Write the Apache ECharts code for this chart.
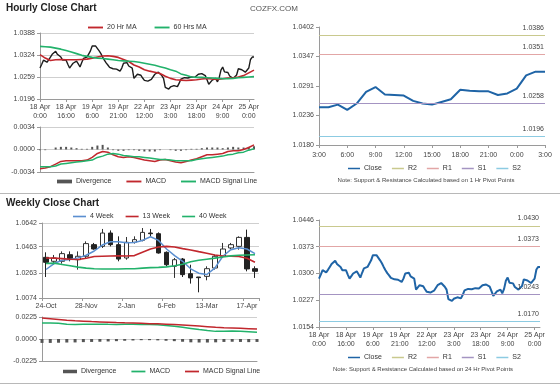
<!DOCTYPE html>
<html><head><meta charset="utf-8">
<script src="https://cdn.jsdelivr.net/npm/echarts@6/dist/echarts.min.js"></script>
<style>html,body{margin:0;padding:0;background:#fff}#c{width:560px;height:386px}</style>
</head><body><div id="c"></div><script>
// ---------------- DATA ----------------
const hourlyTickLabels = ['18 Apr\n0:00','18 Apr\n16:00','19 Apr\n6:00','19 Apr\n21:00','22 Apr\n12:00','23 Apr\n3:00','23 Apr\n18:00','24 Apr\n9:00','25 Apr\n0:00'];
const hourlyClose = [
1.0286,1.0297,1.0309,1.0305,1.0303,1.0310,1.0318,1.0326,1.0330,1.0335,
1.0326,1.0327,1.0318,1.0309,1.0311,1.0309,1.0297,1.0286,1.0293,1.0300,
1.0304,1.0306,1.0298,1.0289,1.0302,1.0314,1.0316,1.0318,1.0320,1.0336,
1.0350,1.0355,1.0350,1.0345,1.0336,1.0328,1.0318,1.0309,1.0301,1.0295,
1.0288,1.0289,1.0284,1.0286,1.0283,1.0280,1.0277,1.0286,1.0300,1.0302,
1.0302,1.0292,1.0288,1.0286,1.0256,1.0262,1.0268,1.0273,1.0265,1.0257,
1.0250,1.0245,1.0248,1.0250,1.0253,1.0256,1.0268,1.0272,1.0274,1.0270,
1.0264,1.0256,1.0230,1.0226,1.0225,1.0231,1.0236,1.0235,1.0236,1.0232,
1.0242,1.0254,1.0256,1.0258,1.0259,1.0257,1.0259,1.0260,1.0261,1.0259,
1.0257,1.0268,1.0264,1.0270,1.0266,1.0264,1.0252,1.0239,1.0242,
1.0251,1.0251,1.0256,1.0246,1.0258,1.0280,1.0289,1.0275,1.0274,1.0273,
1.0263,1.0258,1.0256,1.0261,1.0266,1.0284,1.0282,1.0281,1.0281,1.0274,
1.0277,1.0286,1.0311,1.0318,1.0318];
// 3-hourly samples
const ma20 = [1.0325,1.0315,1.0308,1.0310,1.0311,1.0310,1.0310,1.0310,1.0311,1.0312,1.0315,1.0318,1.0321,1.0322,1.0320,1.0317,1.0311,1.0305,1.0295,1.0289,1.0281,1.0277,1.0274,1.0270,1.0262,1.0256,1.0252,1.0251,1.0250,1.0251,1.0252,1.0254,1.0256,1.0254,1.0253,1.0255,1.0257,1.0258,1.0260,1.0264,1.0272,1.0280];
const ma60 = [1.0349,1.0348,1.0347,1.0344,1.0341,1.0337,1.0333,1.0328,1.0323,1.0320,1.0317,1.0315,1.0314,1.0312,1.0310,1.0308,1.0307,1.0306,1.0305,1.0303,1.0300,1.0297,1.0294,1.0290,1.0286,1.0281,1.0277,1.0269,1.0265,1.0260,1.0259,1.0259,1.0258,1.0257,1.0256,1.0255,1.0255,1.0256,1.0258,1.0259,1.0260,1.0261];
const hMacd = [-0.0029,-0.0028,-0.0026,-0.0022,-0.0018,-0.0017,-0.0017,-0.0017,-0.0017,-0.0016,-0.0012,-0.0006,-0.0003,-0.0004,-0.0008,-0.0011,-0.0012,-0.0011,-0.0012,-0.0014,-0.0016,-0.0017,-0.0018,-0.0016,-0.0015,-0.0017,-0.0019,-0.0020,-0.0018,-0.0016,-0.0014,-0.0011,-0.0008,-0.0008,-0.0007,-0.0006,-0.0003,-0.0002,-0.0002,0.0000,0.0003,0.0007];
const hSignal = [-0.0026,-0.0026,-0.0026,-0.0025,-0.0022,-0.0021,-0.0020,-0.0019,-0.0018,-0.0017,-0.0016,-0.0012,-0.0010,-0.0007,-0.0006,-0.0007,-0.0009,-0.0010,-0.0011,-0.0011,-0.0012,-0.0013,-0.0014,-0.0015,-0.0015,-0.0016,-0.0017,-0.0017,-0.0017,-0.0017,-0.0015,-0.0014,-0.0013,-0.0012,-0.0011,-0.0010,-0.0008,-0.0007,-0.0005,-0.0004,-0.0001,0.0001];
const hDiv = [-0.0001,-0.0001,0.0000,0.0003,0.0004,0.0004,0.0003,0.0002,0.0001,0.0001,0.0004,0.0006,0.0007,0.0003,-0.0001,-0.0002,-0.0002,-0.0001,-0.0001,-0.0002,-0.0003,-0.0003,-0.0003,-0.0001,0.0000,-0.0001,-0.0002,-0.0002,-0.0001,0.0001,0.0001,0.0002,0.0003,0.0003,0.0003,0.0002,0.0003,0.0004,0.0003,0.0003,0.0004,0.0005];
const pivot1hTickLabels = ['3:00','6:00','9:00','12:00','15:00','18:00','21:00','0:00','3:00'];
const pivotNames = ['R2','R1','S1','S2'];
const pivot1hValues = [1.0386,1.0351,1.0258,1.0196];
const pivot24hValues = [1.0430,1.0373,1.0243,1.0170];
const weeklyTickLabels = ['24-Oct','28-Nov','2-Jan','6-Feb','13-Mar','17-Apr'];
// [open, close, low, high]
const weeklyOHLC = [
[1.0382,1.0344,1.0233,1.0420],[1.0352,1.0377,1.0326,1.0400],[1.0352,1.0410,1.0334,1.0427],[1.0402,1.0372,1.0352,1.0427],
[1.0364,1.0390,1.0289,1.0427],[1.0390,1.0486,1.0377,1.0503],[1.0478,1.0445,1.0440,1.0491],[1.0465,1.0566,1.0453,1.0597],
[1.0566,1.0478,1.0465,1.0586],[1.0478,1.0369,1.0352,1.0541],[1.0377,1.0496,1.0364,1.0536],[1.0496,1.0516,1.0486,1.0541],
[1.0511,1.0571,1.0503,1.0604],[1.0566,1.0561,1.0541,1.0597],[1.0561,1.0415,1.0410,1.0571],[1.0420,1.0326,1.0314,1.0427],
[1.0314,1.0364,1.0226,1.0377],[1.0369,1.0251,1.0233,1.0377],[1.0258,1.0226,1.0183,1.0326],[1.0233,1.0228,1.0117,1.0233],
[1.0238,1.0296,1.0208,1.0314],[1.0301,1.0390,1.0289,1.0402],[1.0390,1.0445,1.0377,1.0491],[1.0453,1.0478,1.0445,1.0491],
[1.0465,1.0533,1.0440,1.0541],[1.0533,1.0294,1.0276,1.0592],[1.0296,1.0276,1.0226,1.0314]];
const wk4 = [1.0290,1.0335,1.0360,1.0365,1.0378,1.0398,1.0430,1.0475,1.0500,1.0500,1.0492,1.0495,1.0510,1.0538,1.0510,1.0445,1.0395,1.0352,1.0295,1.0262,1.0252,1.0300,1.0390,1.0440,1.0455,1.0445,1.0410];
const wk13 = [1.0377,1.0376,1.0372,1.0368,1.0365,1.0375,1.0388,1.0390,1.0392,1.0393,1.0392,1.0395,1.0420,1.0445,1.0460,1.0465,1.0460,1.0448,1.0438,1.0425,1.0413,1.0400,1.0392,1.0390,1.0388,1.0375,1.0345];
const wk40 = [1.0335,1.0338,1.0328,1.0318,1.0308,1.0300,1.0296,1.0294,1.0294,1.0294,1.0295,1.0296,1.0300,1.0304,1.0306,1.0310,1.0318,1.0330,1.0348,1.0360,1.0368,1.0376,1.0385,1.0393,1.0398,1.0400,1.0402];
const wMacd = [0.0164,0.0163,0.0160,0.0150,0.0148,0.0150,0.0152,0.0152,0.0150,0.0149,0.0150,0.0150,0.0149,0.0148,0.0145,0.0138,0.0130,0.0120,0.0108,0.0096,0.0086,0.0078,0.0080,0.0082,0.0080,0.0075,0.0070];
const wSignal = [0.0215,0.0208,0.0200,0.0192,0.0186,0.0182,0.0178,0.0175,0.0172,0.0168,0.0165,0.0163,0.0160,0.0157,0.0155,0.0152,0.0148,0.0143,0.0138,0.0132,0.0126,0.0120,0.0115,0.0112,0.0109,0.0106,0.0102];
const wDiv = [-0.0040,-0.0040,-0.0038,-0.0036,-0.0035,-0.0032,-0.0030,-0.0028,-0.0025,-0.0022,-0.0018,-0.0015,-0.0012,-0.0012,-0.0014,-0.0018,-0.0022,-0.0028,-0.0034,-0.0036,-0.0036,-0.0034,-0.0030,-0.0028,-0.0030,-0.0032,-0.0030];
const hourlyPriceTicks = [1.0196,1.0259,1.0324,1.0388];
const pivot1hTicks = [1.0180,1.0236,1.0291,1.0347,1.0402];
const weeklyTicks = [1.0074,1.0263,1.0463,1.0642];
const pivot24hTicks = [1.0154,1.0227,1.0300,1.0373,1.0446];

// ---------------- BUILD ----------------
const FONT = 'Liberation Sans, Arial, sans-serif';
const C = {red:'#c1272d', green:'#22b26b', blue:'#5b8fd0', close:'#1f64a6', div:'#555',
  piv:['#c9c98e','#e2a6a6','#a494c2','#8ccbe2'], grid:'#cfcfcf', axis:'#9a9a9a', lab:'#444'};
const LINE_ICON = 'path://M0,0H16V2H0Z';
const BOX_ICON = 'path://M0,0H16V4H0Z';
const hourlyCats = hourlyClose.map((_, i) => i % 15 === 0 ? hourlyTickLabels[i / 15] : 'h' + i);
const maCats = ma20.map((_, i) => 'm' + i);
const p1Close = hourlyClose.slice(-25);
const p1Cats = p1Close.map((_, i) => i % 3 === 0 ? pivot1hTickLabels[i / 3] : 'p' + i);
const wkCats = weeklyOHLC.map((_, i) => i % 5 === 0 ? weeklyTickLabels[i / 5] : 'w' + i);

const lab = {fontSize: 7, color: C.lab, fontFamily: FONT};
function catAxis(grid, data, opt) {
  return Object.assign({type: 'category', gridIndex: grid, data: data, boundaryGap: false,
    axisLine: {onZero: false, lineStyle: {color: C.axis}},
    axisTick: {show: false}, axisLabel: {show: false}, splitLine: {show: false}}, opt || {});
}
function labeledCat(grid, data, interval, margin, bg) {
  return catAxis(grid, data, {boundaryGap: !!bg,
    axisTick: {show: true, interval: interval, length: 3, lineStyle: {color: C.axis}},
    axisLabel: Object.assign({show: true, interval: interval, margin: margin, lineHeight: 9}, lab)});
}
function valAxis(grid, min, max, ticks, split) {
  const a = {type: 'value', gridIndex: grid, min: min, max: max,
    axisLine: {show: true, lineStyle: {color: C.axis}},
    axisTick: {show: true, length: 3, lineStyle: {color: C.axis}},
    axisLabel: Object.assign({margin: 5, formatter: v => v.toFixed(4)}, lab),
    splitLine: {show: split, lineStyle: {color: C.grid}}};
  if (Array.isArray(ticks)) { a.axisTick.customValues = ticks; a.axisLabel.customValues = ticks; }
  else a.interval = ticks;
  return a;
}
function pivotSeries(names, values, xi, yi) {
  return names.map((n, k) => ({
    name: n, type: 'line', xAxisIndex: xi, yAxisIndex: yi, data: [], symbol: 'none',
    lineStyle: {color: C.piv[k], width: 1.5}, itemStyle: {color: C.piv[k]},
    markLine: {silent: true, symbol: ['none', 'none'], animation: false, precision: 4,
      lineStyle: {color: C.piv[k], width: 1, type: 'solid'},
      label: {position: 'insideEndTop', distance: [1, 4], formatter: p => Number(p.value).toFixed(4), fontSize: 7, color: C.lab, fontFamily: FONT},
      data: [{yAxis: values[k]}]}
  }));
}
function legItem(name, color, box) {
  return {name: name, icon: box ? BOX_ICON : LINE_ICON, itemStyle: {color: color}, lineStyle: {color: color}};
}
function legend(left, top, items, iw, gap) {
  return {left: left, top: top, itemWidth: iw, itemHeight: 4, itemGap: gap, padding: 0,
    textStyle: {fontSize: 7, color: '#333', fontFamily: FONT, padding: [0, 0, 0, -1]}, data: items};
}
function lineS(name, xi, yi, data, color, w) {
  return {name: name, type: 'line', xAxisIndex: xi, yAxisIndex: yi, data: data, symbol: 'none',
    lineStyle: {color: color, width: w}, itemStyle: {color: color}};
}
const titleStyle = {fontSize: 10, fontWeight: 'bold', color: '#222', fontFamily: FONT};
const noteStyle = {fontSize: 6, fontWeight: 'normal', color: '#444', fontFamily: FONT};
const pivotLegend = [legItem('Close', C.close)].concat(pivotNames.map((n, k) => legItem(n, C.piv[k])));

const option = {
  animation: false,
  backgroundColor: '#fff',
  title: [
    {text: 'Hourly Close Chart', left: 6, top: 3, padding: 0, textStyle: titleStyle},
    {text: 'COZFX.COM', left: 250, top: 5, padding: 0, textStyle: {fontSize: 8, fontWeight: 'normal', color: '#555', fontFamily: FONT}},
    {text: 'Weekly Close Chart', left: 6, top: 198, padding: 0, textStyle: titleStyle},
    {text: 'Note: Support & Resistance Calculated based on 1 Hr Pivot Points', left: 426, textAlign: 'center', top: 177, padding: 0, textStyle: noteStyle},
    {text: 'Note: Support & Resistance Calculated based on 24 Hr Pivot Points', left: 423, textAlign: 'center', top: 366, padding: 0, textStyle: noteStyle}
  ],
  legend: [
    legend(88, 24, [legItem('20 Hr MA', C.red), legItem('60 Hrs MA', C.green)], 15, 18),
    legend(57, 178, [legItem('Divergence', C.div, true), legItem('MACD', C.red), legItem('MACD Signal Line', C.green)], 15, 15),
    legend(348, 165, pivotLegend, 12, 10),
    legend(73, 213, [legItem('4 Week', C.blue), legItem('13 Week', C.red), legItem('40 Week', C.green)], 13, 12),
    legend(63, 368, [legItem('Divergence', C.div, true), legItem('MACD', C.green), legItem('MACD Signal Line', C.red)], 14, 15),
    legend(348, 354, pivotLegend, 12, 10)
  ],
  grid: [
    {left: 40, top: 33, width: 214, height: 66},
    {left: 40, top: 127, width: 214, height: 45},
    {left: 319, top: 27, width: 226, height: 118},
    {left: 42, top: 223, width: 217, height: 75},
    {left: 42, top: 317, width: 215, height: 44},
    {left: 319, top: 220, width: 221, height: 107}
  ],
  xAxis: [
    labeledCat(0, hourlyCats, 14, 4),
    Object.assign(catAxis(0, maCats), {show: false}),
    catAxis(1, maCats),
    labeledCat(2, p1Cats, 2, 6),
    labeledCat(3, wkCats, 4, 4, true),
    catAxis(4, wDiv.map((_, i) => 'd' + i)),
    labeledCat(5, hourlyCats, 14, 4)
  ],
  yAxis: [
    valAxis(0, 1.0196, 1.0388, hourlyPriceTicks, true),
    valAxis(1, -0.0034, 0.0034, 0.0034, true),
    valAxis(2, 1.0180, 1.0402, pivot1hTicks, false),
    valAxis(3, 1.0074, 1.0642, weeklyTicks, true),
    valAxis(4, -0.0225, 0.0225, 0.0225, true),
    valAxis(5, 1.0154, 1.0446, pivot24hTicks, false)
  ],
  series: [
    lineS('Hourly Price', 0, 0, hourlyClose, '#1c1c1c', 1.4),
    lineS('20 Hr MA', 1, 0, ma20, C.red, 1.6),
    lineS('60 Hrs MA', 1, 0, ma60, C.green, 1.6),
    {name: 'Divergence', type: 'bar', xAxisIndex: 2, yAxisIndex: 1, data: hDiv, barWidth: 2, itemStyle: {color: C.div}},
    lineS('MACD', 2, 1, hMacd, C.red, 1.5),
    lineS('MACD Signal Line', 2, 1, hSignal, C.green, 1.5),
    lineS('Close', 3, 2, p1Close, C.close, 2),
    ...pivotSeries(pivotNames, pivot1hValues, 3, 2),
    {name: 'Weekly', type: 'candlestick', xAxisIndex: 4, yAxisIndex: 3, data: weeklyOHLC, barWidth: 5,
      itemStyle: {color: '#ffffff', color0: '#222222', borderColor: '#333333', borderColor0: '#222222', borderWidth: 1}},
    lineS('4 Week', 4, 3, wk4, C.blue, 1.5),
    lineS('13 Week', 4, 3, wk13, C.red, 1.6),
    lineS('40 Week', 4, 3, wk40, C.green, 1.6),
    {name: 'Divergence', type: 'bar', xAxisIndex: 5, yAxisIndex: 4, data: wDiv, barWidth: 3, itemStyle: {color: C.div}},
    lineS('MACD', 5, 4, wMacd, C.green, 1.5),
    lineS('MACD Signal Line', 5, 4, wSignal, C.red, 1.5),
    lineS('Close', 6, 5, hourlyClose, C.close, 2),
    ...pivotSeries(pivotNames, pivot24hValues, 6, 5)
  ],
  graphic: [
    {type: 'line', shape: {x1: 0, y1: 193.5, x2: 560, y2: 193.5}, style: {stroke: '#b8b8b8', lineWidth: 1}},
    {type: 'line', shape: {x1: 0, y1: 383.5, x2: 560, y2: 383.5}, style: {stroke: '#b8b8b8', lineWidth: 1}}
  ]
};
const chart = echarts.init(document.getElementById('c'), null, {width: 560, height: 386});
chart.setOption(option);
</script></body></html>
